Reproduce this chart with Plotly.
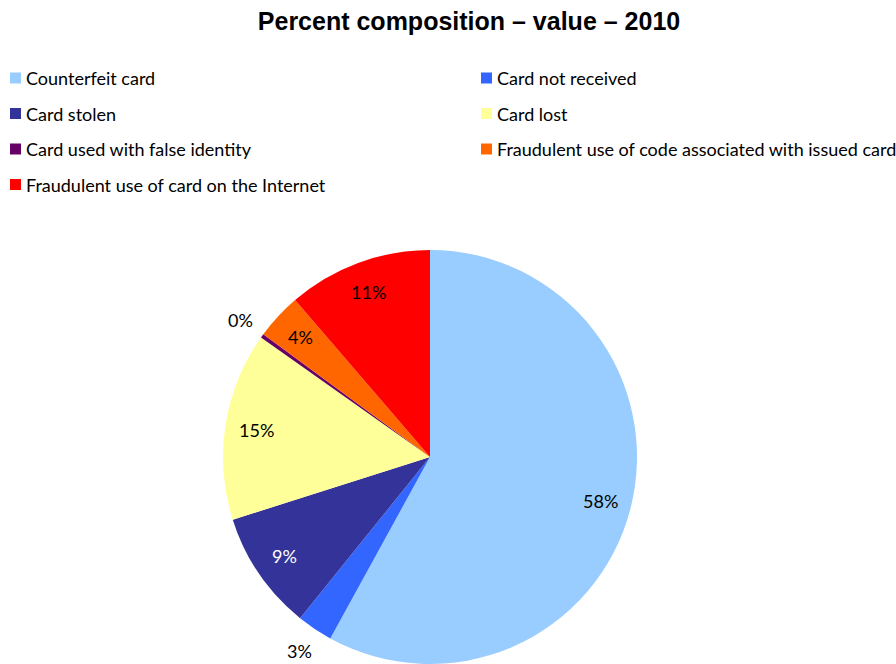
import math
import plotly.graph_objects as go

# Fraud categories and their share of total value (percent), 2010
categories = [
    "Counterfeit card",
    "Card not received",
    "Card stolen",
    "Card lost",
    "Card used with false identity",
    "Fraudulent use of code associated with issued card",
    "Fraudulent use of card on the Internet",
]
shares = [58.0, 2.8, 9.3, 14.7, 0.3, 3.6, 11.3]
colors = ["#99CCFF", "#3366FF", "#333399", "#FFFF99", "#660066", "#FF6600", "#FF0000"]
label_outside = [False, True, False, False, True, False, False]
label_colors = ["#000000", "#000000", "#FFFFFF", "#000000", "#000000", "#000000", "#000000"]

W, H = 896, 664
FONT = "Lato, Open Sans, sans-serif"

# pie geometry in pixels (margins are zero, so paper == page)
CX, CY, R = 430.0, 457.0, 207.0

fig = go.Figure(
    go.Pie(
        labels=categories,
        values=shares,
        sort=False,
        direction="clockwise",
        rotation=0,
        marker=dict(colors=colors, line=dict(width=0)),
        textinfo="none",
        hoverinfo="label+percent",
        showlegend=False,
        domain=dict(x=[(CX - R) / W, (CX + R) / W], y=[1 - (CY + R) / H, 1 - (CY - R) / H]),
    )
)

# percentage labels placed along each slice's bisector
total = sum(shares)
cum = 0.0
annotations = []
for share, outside, tcolor in zip(shares, label_outside, label_colors):
    mid = (cum + share / 2) / total * 2 * math.pi
    cum += share
    rr = R * (1.13 if outside else 0.85)
    px = CX + rr * math.sin(mid)
    py = CY - rr * math.cos(mid)
    annotations.append(
        dict(
            x=px / W,
            y=1 - py / H,
            xref="paper",
            yref="paper",
            text=f"{round(share / total * 100):.0f}%",
            showarrow=False,
            xanchor="center",
            yanchor="middle",
            font=dict(family=FONT, size=18, color=tcolor),
        )
    )

# two-column legend
legend_cols = [10, 481]
legend_rows = [78, 113.5, 149, 184.5]
shapes = []
for i, (name, color) in enumerate(zip(categories, colors)):
    lx = legend_cols[i % 2]
    ly = legend_rows[i // 2]
    shapes.append(
        dict(
            type="rect",
            xref="paper",
            yref="paper",
            x0=lx / W,
            x1=(lx + 11) / W,
            y0=1 - (ly + 5.5) / H,
            y1=1 - (ly - 5.5) / H,
            fillcolor=color,
            line=dict(width=0),
        )
    )
    annotations.append(
        dict(
            x=(lx + 14) / W,
            y=1 - ly / H,
            xref="paper",
            yref="paper",
            text=name,
            showarrow=False,
            xanchor="left",
            yanchor="middle",
            font=dict(family=FONT, size=18, color="#000000"),
        )
    )

fig.update_layout(
    width=W,
    height=H,
    margin=dict(l=0, r=0, t=0, b=0),
    paper_bgcolor="white",
    plot_bgcolor="white",
    title=dict(
        text="<b>Percent composition – value – 2010</b>",
        font=dict(family="Liberation Sans, Arial", size=25, color="#000000"),
        x=469 / W,
        xanchor="center",
        y=1 - 21 / H,
        yanchor="middle",
    ),
    annotations=annotations,
    shapes=shapes,
    showlegend=False,
)

fig.write_html("out.html")
